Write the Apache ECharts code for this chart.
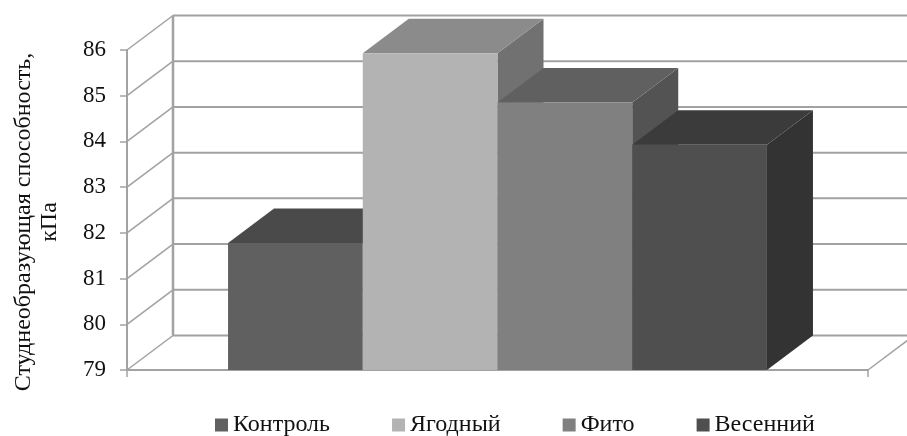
<!DOCTYPE html>
<html>
<head>
<meta charset="utf-8">
<style>html,body{margin:0;padding:0;background:#fff}#chart{width:907px;height:436px}</style>
<script src="https://cdn.jsdelivr.net/npm/echarts@6/dist/echarts.min.js"></script>
</head>
<body>
<div id="chart"></div>
<script>
// Gel-forming capacity by sample, drawn as a pseudo-3D column chart.
const seriesNames = ['Контроль', 'Ягодный', 'Фито', 'Весенний'];
const seriesValues = [81.78, 85.93, 84.85, 83.93];
const yTicks = [79, 80, 81, 82, 83, 84, 85, 86];
const category = [''];
const axisTitle = 'Студнеобразующая способность,\nкПа';

const frontColors = ['#606060', '#b3b3b3', '#808080', '#4f4f4f'];
const topColors = ['#4a4a4a', '#8b8b8b', '#606060', '#3b3b3b'];
const sideColors = ['#444444', '#717171', '#535353', '#333333'];

const DEPTH_X = 46, DEPTH_Y = -34.5;
const WALL = '#a2a2a2';
const FONT = '"Liberation Serif", "Times New Roman", serif';

// Side wall diagonals and back wall lines, one set per y tick.
function renderWall(params, api) {
  const y = api.coord([0, api.value(0)])[1];
  const left = params.coordSys.x;
  const right = left + params.coordSys.width;
  const children = [{
    type: 'line',
    shape: { x1: left, y1: y, x2: left + DEPTH_X, y2: y + DEPTH_Y },
    style: { stroke: WALL, lineWidth: 1.5 }
  }, {
    type: 'line',
    shape: { x1: left + DEPTH_X, y1: y + DEPTH_Y, x2: right + DEPTH_X, y2: y + DEPTH_Y },
    style: { stroke: WALL, lineWidth: 2 }
  }];
  if (params.dataIndex === 0) {
    const topY = api.coord([0, yTicks[yTicks.length - 1]])[1];
    children.push({
      type: 'line',
      shape: { x1: left + DEPTH_X, y1: y + DEPTH_Y, x2: left + DEPTH_X, y2: topY + DEPTH_Y },
      style: { stroke: WALL, lineWidth: 2.5 }
    }, {
      type: 'line',
      shape: { x1: right, y1: y, x2: right + DEPTH_X, y2: y + DEPTH_Y },
      style: { stroke: WALL, lineWidth: 1.5 }
    });
  }
  return { type: 'group', children };
}

// One extruded column: side, top and front faces placed through the axes.
function renderColumn(seriesIndex) {
  return function (params, api) {
    const band = api.size([1, 0])[0];
    const w = band / 5.5;
    const bandLeft = api.coord([0, 0])[0] - band / 2;
    const x = bandLeft + w * 0.75 + w * seriesIndex;
    const top = api.coord([0, api.value(1)])[1];
    const base = api.coord([0, yTicks[0]])[1];
    const poly = (points, fill) => ({
      type: 'polygon',
      shape: { points },
      style: { fill, stroke: null }
    });
    return {
      type: 'group',
      children: [
        poly([[x + w, top], [x + w + DEPTH_X, top + DEPTH_Y], [x + w + DEPTH_X, base + DEPTH_Y], [x + w, base]], sideColors[seriesIndex]),
        poly([[x, top], [x + DEPTH_X, top + DEPTH_Y], [x + w + DEPTH_X, top + DEPTH_Y], [x + w, top]], topColors[seriesIndex]),
        poly([[x, top], [x + w, top], [x + w, base], [x, base]], frontColors[seriesIndex])
      ]
    };
  };
}

const series = [{
  type: 'custom',
  name: 'wall',
  data: yTicks.map(v => [v]),
  encode: { y: 0 },
  renderItem: renderWall,
  silent: true,
  clip: false,
  z: 1
}].concat(seriesNames.map((name, i) => ({
  type: 'custom',
  name,
  data: [[0, seriesValues[i]]],
  encode: { x: 0, y: 1 },
  renderItem: renderColumn(i),
  itemStyle: { color: frontColors[i] },
  clip: false,
  z: 2 + i
})));

const chart = echarts.init(document.getElementById('chart'), null, { renderer: 'canvas' });
chart.setOption({
  animation: false,
  backgroundColor: '#ffffff',
  grid: { left: 127, right: 39, top: 50, bottom: 66, outerBoundsMode: 'none' },
  xAxis: {
    type: 'category',
    data: category,
    axisLine: { lineStyle: { color: WALL, width: 2 } },
    axisTick: { show: true, length: 7, lineStyle: { color: WALL, width: 1.5 } },
    axisLabel: { show: false },
    splitLine: { show: false }
  },
  yAxis: {
    type: 'value',
    min: 79,
    max: 86,
    interval: 1,
    name: axisTitle,
    nameLocation: 'middle',
    nameRotate: 90,
    nameGap: 64,
    nameTextStyle: { fontFamily: FONT, fontSize: 24, color: '#111111', lineHeight: 26, padding: [0, 24, 0, 0] },
    axisLine: { show: true, lineStyle: { color: WALL, width: 2 } },
    axisTick: { show: true, length: 7, lineStyle: { color: WALL, width: 1.5 } },
    axisLabel: { fontFamily: FONT, fontSize: 23, color: '#111111', margin: 21 },
    splitLine: { show: false }
  },
  legend: {
    data: seriesNames,
    left: 215,
    top: 413,
    itemWidth: 13,
    itemHeight: 13,
    itemGap: 62,
    padding: 0,
    icon: 'rect',
    textStyle: { fontFamily: FONT, fontSize: 24, color: '#111111' }
  },
  series
});
</script>
</body>
</html>
